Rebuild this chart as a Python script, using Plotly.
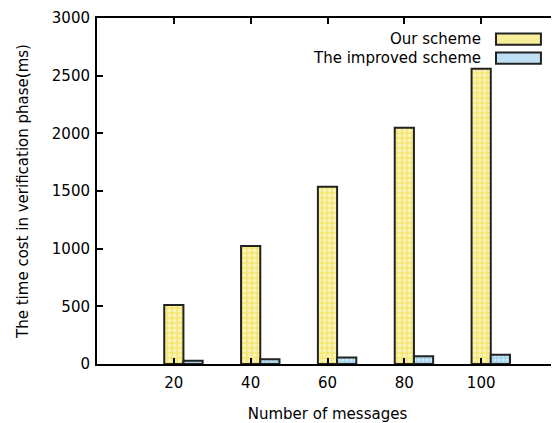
import plotly.graph_objects as go

categories = ["20", "40", "60", "80", "100"]
our_scheme = [512, 1024, 1536, 2048, 2560]
improved_scheme = [28, 42, 56, 68, 80]
y_ticks = [0, 500, 1000, 1500, 2000, 2500, 3000]

pos = list(range(1, len(categories) + 1))
FONT = "DejaVu Sans"
YEL = "#f4e672"
BLU = "#a8d4ee"

fig = go.Figure()
fig.add_trace(go.Bar(
    x=pos, y=our_scheme, name="Our scheme", width=0.25, offset=-0.125,
    marker=dict(color=YEL, line=dict(color="#222222", width=2),
                pattern=dict(shape=".", fgcolor="white", size=5, solidity=0.45)),
    showlegend=False,
))
fig.add_trace(go.Bar(
    x=pos, y=improved_scheme, name="The improved scheme", width=0.25, offset=0.125,
    marker=dict(color=BLU, line=dict(color="#222222", width=2),
                pattern=dict(shape=".", fgcolor="white", size=4, solidity=0.35)),
    showlegend=False,
))

# legend drawn gnuplot-style (text left of swatch)
legend_items = [("Our scheme", "#f7ee9a"), ("The improved scheme", "#bfe0f4")]
for i, (name, col) in enumerate(legend_items):
    yc = 0.939 - i * 0.055
    fig.add_annotation(x=0.837, y=yc, xref="paper", yref="paper", text=name,
                       showarrow=False, xanchor="right", yanchor="middle",
                       font=dict(family=FONT, size=15, color="black"))
    fig.add_shape(type="rect", xref="paper", yref="paper",
                  x0=0.8655, x1=0.963, y0=yc - 0.016, y1=yc + 0.016,
                  fillcolor=col, line=dict(color="#222222", width=2))

fig.update_layout(
    width=551, height=415,
    margin=dict(l=89, r=1, t=10, b=59, autoexpand=False),
    paper_bgcolor="white", plot_bgcolor="white",
    barmode="overlay",
    font=dict(family=FONT, size=15, color="black"),
)
fig.update_xaxes(
    range=[0, 6], tickvals=pos, ticktext=categories, automargin=False,
    showline=True, linecolor="black", linewidth=2, mirror="ticks",
    ticks="inside", ticklen=6, tickwidth=1.5, tickcolor="black",
    ticklabelstandoff=4,
    showgrid=False, zeroline=False,
    title=dict(text="Number of messages", font=dict(family=FONT, size=15), standoff=22),
)
fig.update_yaxes(
    range=[0, 3000], tickvals=y_ticks, automargin=False,
    showline=True, linecolor="black", linewidth=2, mirror="ticks",
    ticks="inside", ticklen=6, tickwidth=1.5, tickcolor="black",
    ticklabelstandoff=2,
    showgrid=False, zeroline=False,
    title=dict(text="The time cost in verification phase(ms)", font=dict(family=FONT, size=15), standoff=20),
)

fig.write_html("out.html")
